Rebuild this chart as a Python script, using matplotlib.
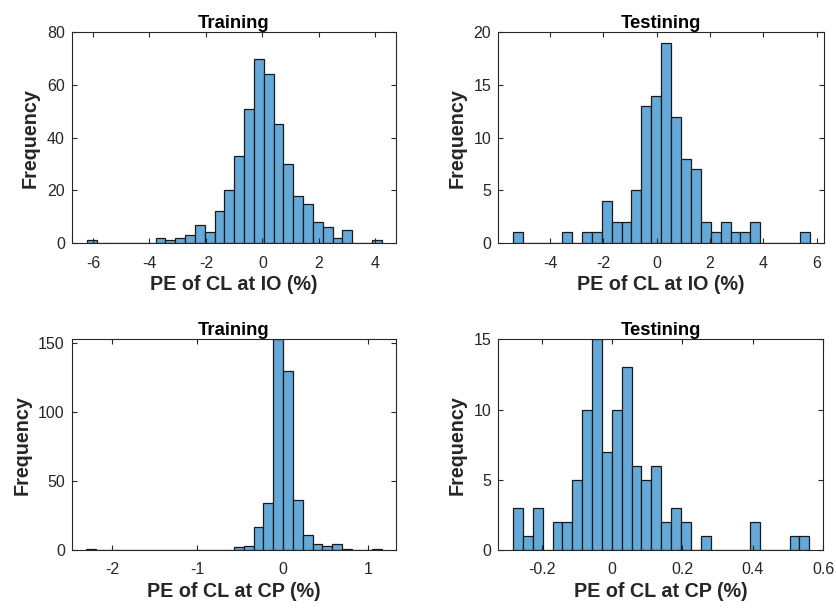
import matplotlib
matplotlib.use("Agg")
import matplotlib.pyplot as plt
import numpy as np

plt.rcParams['font.family'] = ['Liberation Sans', 'DejaVu Sans']

# bin ranges (first edge, last edge) and counts, 30 bins each
io_train_range = (-6.22, 4.22)
io_train_counts = [1, 0, 0, 0, 0, 0, 0, 2, 1, 2, 3, 7, 4, 12, 20, 33, 51, 70, 64, 45,
                   30, 18, 15, 8, 6, 2, 5, 0, 0, 1]
io_test_range = (-5.40, 5.74)
io_test_counts = [1, 0, 0, 0, 0, 1, 0, 1, 1, 4, 2, 2, 5, 13, 14, 19, 12, 8, 7, 2,
                  1, 2, 1, 1, 2, 0, 0, 0, 0, 1]
cp_train_range = (-2.30, 1.16)
cp_train_counts = [1, 0, 0, 0, 0, 0, 0, 0, 0, 0, 0, 0, 0, 0, 0, 2, 3, 17, 34, 153,
                   130, 36, 11, 4, 3, 4, 1, 0, 0, 1]
cp_test_range = (-0.281, 0.561)
cp_test_counts = [3, 1, 3, 0, 2, 2, 5, 10, 15, 7, 10, 13, 6, 5, 6, 2, 3, 2, 0, 1,
                  0, 0, 0, 0, 2, 0, 0, 0, 1, 1]

titles = ['Training', 'Testining', 'Training', 'Testining']
xlabels = ['PE of CL at IO (%)', 'PE of CL at IO (%)', 'PE of CL at CP (%)', 'PE of CL at CP (%)']

panels = [
    (io_train_range, io_train_counts, (-6.75, 4.73), [-6, -4, -2, 0, 2, 4], (0, 80), [0, 20, 40, 60, 80]),
    (io_test_range, io_test_counts, (-5.94, 6.27), [-4, -2, 0, 2, 4, 6], (0, 20), [0, 5, 10, 15, 20]),
    (cp_train_range, cp_train_counts, (-2.47, 1.33), [-2, -1, 0, 1], (0, 153), [0, 50, 100, 150]),
    (cp_test_range, cp_test_counts, (-0.323, 0.6), [-0.2, 0, 0.2, 0.4, 0.6], (0, 15), [0, 5, 10, 15]),
]

# axes rectangles in figure fractions
rects = [
    [0.0857, 0.6003, 0.3875, 0.3466],
    [0.5953, 0.6003, 0.3890, 0.3466],
    [0.0857, 0.0954, 0.3875, 0.3466],
    [0.5953, 0.0954, 0.3880, 0.3466],
]

dark = '#262626'
fig = plt.figure(figsize=(8.37, 6.08), dpi=100)

for i, (rng, counts, xlim, xticks, ylim, yticks) in enumerate(panels):
    ax = fig.add_axes(rects[i])
    edges = np.linspace(rng[0], rng[1], len(counts) + 1)
    ax.bar(edges[:-1], counts, width=np.diff(edges), align='edge',
           color='#64a9d8', edgecolor='#1a1a1a', linewidth=0.9)
    ax.set_xlim(*xlim)
    ax.set_ylim(*ylim)
    ax.set_xticks(xticks)
    ax.set_xticklabels([('%g' % t) for t in xticks])
    ax.set_yticks(yticks)
    ax.tick_params(direction='in', length=3.5, width=0.8, colors=dark,
                   labelsize=11.5, top=True, right=True)
    ax.tick_params(axis='x', pad=9)
    ax.tick_params(axis='y', pad=5)
    for s in ax.spines.values():
        s.set_color(dark)
        s.set_linewidth(0.8)
    ax.set_title(titles[i], fontsize=13.3, fontweight='bold', pad=3)
    ax.set_xlabel(xlabels[i], fontsize=14.2, fontweight='bold', color=dark, labelpad=3)
    ax.set_ylabel('Frequency', fontsize=14.2, fontweight='bold', color=dark, labelpad=5)

fig.savefig('out.png', dpi=100)
